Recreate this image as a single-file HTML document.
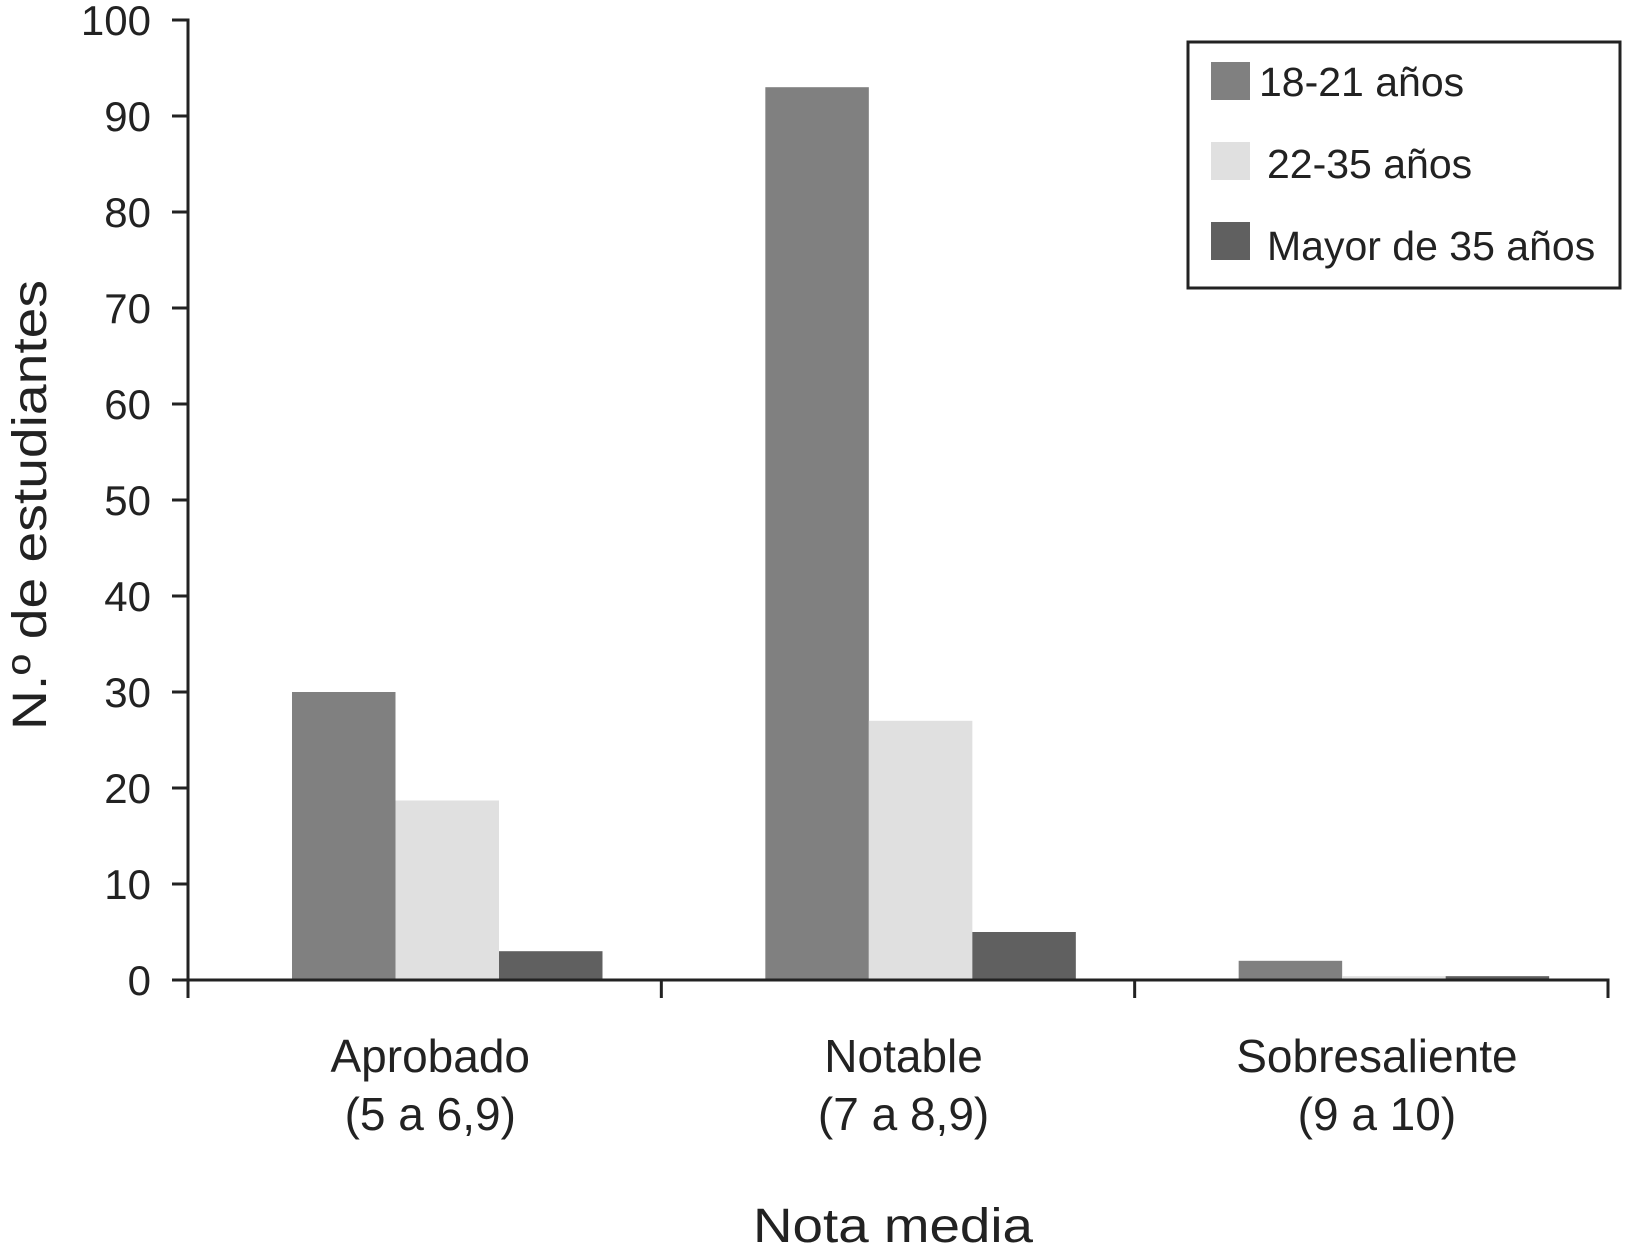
<!DOCTYPE html>
<html><head><meta charset="utf-8"><style>
html,body{margin:0;padding:0;background:#fff;}
svg{display:block;font-family:"Liberation Sans",Arial,sans-serif;}
</style></head><body>
<svg id="chart" width="1625" height="1257" viewBox="0 0 1625 1257" xmlns="http://www.w3.org/2000/svg">
<g id="bars"></g>
<g id="axes"></g>
<text x="0" y="0" transform="translate(46,505) rotate(-90)" text-anchor="middle" font-size="48" fill="#222" textLength="450" lengthAdjust="spacingAndGlyphs">N.º de estudiantes</text>
<text x="893" y="1242" text-anchor="middle" font-size="48" fill="#222" textLength="280" lengthAdjust="spacingAndGlyphs">Nota media</text>
<g>
<rect x="1188" y="42" width="432" height="246" fill="#fff" stroke="#222" stroke-width="3"/>
<rect x="1211" y="62" width="39" height="38" fill="#808080"/>
<text x="1259" y="96" font-size="41" fill="#222">18-21 años</text>
<rect x="1211" y="142" width="39" height="38" fill="#e0e0e0"/>
<text x="1267" y="178" font-size="41" fill="#222">22-35 años</text>
<rect x="1211" y="222" width="39" height="38" fill="#606060"/>
<text x="1267" y="260" font-size="41" fill="#222">Mayor de 35 años</text>
</g>
</svg>
<script>
const categoriesLine1 = ["Aprobado", "Notable", "Sobresaliente"];
const categoriesLine2 = ["(5 a 6,9)", "(7 a 8,9)", "(9 a 10)"];
const series1821 = [30, 93, 2];
const series2235 = [18.7, 27, 0.4];
const seriesMayor35 = [3, 5, 0.4];
const yTicks = [0, 10, 20, 30, 40, 50, 60, 70, 80, 90, 100];

const NS = "http://www.w3.org/2000/svg";
const X0 = 188, X1 = 1608, Y0 = 980, Y100 = 20;
const groupW = (X1 - X0) / categoriesLine1.length;
const barW = 103.5, padL = 104;
const yScale = v => Y0 - (v / 100) * (Y0 - Y100);
const xGroup = i => X0 + i * groupW;
const seriesList = [series1821, series2235, seriesMayor35];
const colors = ["#808080", "#e0e0e0", "#606060"];
const seriesNames = ["18-21", "22-35", "mayor-35"];
const barsG = document.getElementById("bars");
const axesG = document.getElementById("axes");
function mk(tag, attrs, parent) {
  const e = document.createElementNS(NS, tag);
  for (const k in attrs) e.setAttribute(k, attrs[k]);
  parent.appendChild(e);
  return e;
}
seriesList.forEach((s, si) => {
  s.forEach((v, ci) => {
    const x = xGroup(ci) + padL + si * barW;
    const r = mk("rect", {x: x, y: yScale(v), width: barW, height: Y0 - yScale(v), fill: colors[si]}, barsG);
    
    
  });
});
const yAxis = mk("line", {x1: X0, y1: Y100 - 1.5, x2: X0, y2: Y0, stroke: "#222", "stroke-width": 3}, axesG);


const xAxis = mk("line", {x1: X0 - 16, y1: Y0, x2: X1 + 1.5, y2: Y0, stroke: "#222", "stroke-width": 3}, axesG);


yTicks.forEach(t => {
  const y = yScale(t);
  const tk = mk("line", {x1: X0 - 16, y1: y, x2: X0, y2: y, stroke: "#222", "stroke-width": 3}, axesG);
  
  
  const lb = mk("text", {x: 151, y: y + 15, "text-anchor": "end", "font-size": 42, fill: "#222"}, axesG);
  lb.textContent = t;
  
  
});
for (let i = 0; i <= categoriesLine1.length; i++) {
  const x = xGroup(i);
  const tk = mk("line", {x1: x, y1: Y0, x2: x, y2: Y0 + 18, stroke: "#222", "stroke-width": 3}, axesG);
  
  
}
categoriesLine1.forEach((c, i) => {
  const cx = xGroup(i) + padL + 1.5 * barW - 17;
  const l1 = mk("text", {x: cx, y: 1072, "text-anchor": "middle", "font-size": 46, fill: "#222"}, axesG);
  l1.textContent = c;
  
  
  const l2 = mk("text", {x: cx, y: 1130, "text-anchor": "middle", "font-size": 46, fill: "#222"}, axesG);
  l2.textContent = categoriesLine2[i];
  
  
});
</script>
</body></html>
